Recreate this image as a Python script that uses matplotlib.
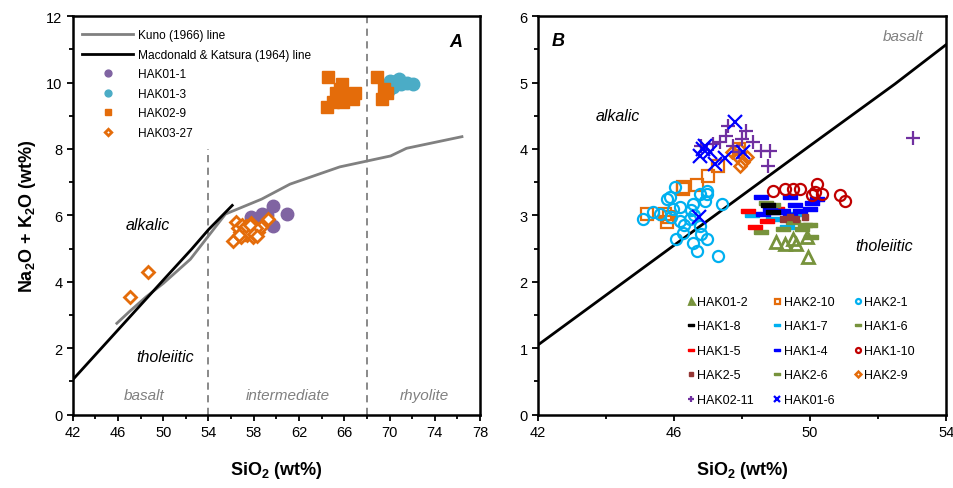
import numpy as np
import matplotlib
matplotlib.use("Agg")
import matplotlib.pyplot as plt

plt.rcParams["font.family"] = ["Liberation Sans", "DejaVu Sans"]
plt.rcParams["mathtext.fontset"] = "custom"
plt.rcParams["mathtext.rm"] = "Liberation Sans"
plt.rcParams["mathtext.bf"] = "Liberation Sans:bold"
plt.rcParams["mathtext.it"] = "Liberation Sans:italic"

# -------------------------
# data : panel A
# -------------------------
kuno_x = [45.9, 47.0, 48.5, 50.0, 52.4, 55.5, 58.7, 61.2, 65.6, 70.1, 71.5, 76.4]
kuno_y = [2.75, 3.10, 3.55, 3.95, 4.68, 6.04, 6.49, 6.94, 7.46, 7.79, 8.02, 8.37]
mk_x = [42.0, 44.4, 46.0, 48.0, 50.0, 52.5, 54.0, 56.1]
mk_y = [1.05, 1.95, 2.55, 3.30, 4.05, 4.98, 5.57, 6.30]

hak01_1_x = [59.7, 60.9, 58.7, 58.3, 59.7, 57.8, 59.2, 58.9]
hak01_1_y = [6.29, 6.04, 6.04, 5.89, 5.69, 5.94, 6.00, 5.80]
hak01_3_x = [70.05, 70.8, 70.3, 71.5, 72.1, 69.9, 71.0, 70.6]
hak01_3_y = [10.05, 10.10, 9.86, 10.00, 9.95, 9.75, 9.95, 10.05]
hak02_9_x = [64.6, 65.8, 65.3, 66.2, 66.8, 64.5, 65.0, 65.9, 66.96, 65.6,
             68.9, 69.3, 69.8, 69.5]
hak02_9_y = [10.16, 9.95, 9.70, 9.60, 9.50, 9.25, 9.40, 9.40, 9.70, 9.80,
             10.16, 9.50, 9.68, 9.80]
hak03_27_x = [47.07, 48.68, 56.2, 56.4, 57.8, 59.3, 56.8, 57.2, 57.6, 58.1,
              56.6, 57.0, 57.4, 58.4, 57.9, 56.9, 58.6, 57.1, 57.5, 58.2,
              56.7, 57.3, 58.0, 57.7, 58.3]
hak03_27_y = [3.53, 4.30, 5.24, 5.79, 5.77, 5.89, 5.50, 5.45, 5.60, 5.55,
              5.62, 5.70, 5.40, 5.50, 5.35, 5.35, 5.65, 5.55, 5.50, 5.62,
              5.42, 5.68, 5.45, 5.72, 5.38]

# -------------------------
# data : panel B
# -------------------------
b_hak01_2_x = [49.27, 49.5, 49.6, 49.9, 49.95, 49.0]
b_hak01_2_y = [2.57, 2.64, 2.57, 2.67, 2.37, 2.60]
b_hak2_10_x = [47.0, 46.66, 46.27, 47.3, 45.19, 45.78, 45.73, 46.27, 47.9, 45.85]
b_hak2_10_y = [3.60, 3.46, 3.42, 3.75, 3.02, 2.90, 3.02, 3.40, 4.00, 2.98]
b_hak2_1_x = [45.09, 45.38, 45.58, 45.97, 46.07, 46.27, 46.56, 46.66, 46.96, 47.3,
              45.78, 46.17, 46.56, 46.9, 46.96, 46.76, 46.46, 46.17, 46.02, 45.88,
              46.76, 46.96, 47.4, 46.6, 46.3, 45.9, 46.8, 46.5]
b_hak2_1_y = [2.95, 3.05, 3.02, 3.10, 2.64, 2.74, 2.59, 2.47, 2.64, 2.39,
              3.25, 3.12, 3.17, 3.22, 3.32, 2.84, 2.95, 2.92, 3.42, 3.27,
              3.32, 3.37, 3.17, 3.00, 2.85, 2.98, 2.72, 3.08]
b_hak1_8_x = [48.77, 48.9]
b_hak1_8_y = [3.15, 3.05]
b_hak1_7_x = [48.28, 49.31, 48.9, 49.6]
b_hak1_7_y = [3.00, 2.82, 2.95, 3.02]
b_hak1_6_x = [48.57, 49.2, 49.84, 50.04, 48.7]
b_hak1_6_y = [2.75, 2.80, 2.85, 2.67, 3.18]
b_hak1_5_x = [48.18, 48.38, 48.72, 49.02]
b_hak1_5_y = [3.07, 2.82, 2.92, 3.10]
b_hak1_4_x = [48.57, 49.4, 50.19, 48.82, 49.2, 49.7, 49.99, 48.63, 49.4, 49.0, 49.55, 50.05]
b_hak1_4_y = [3.27, 3.27, 3.25, 3.10, 3.07, 3.07, 3.10, 3.02, 3.00, 3.05, 3.15, 3.18]
b_hak1_10_x = [48.92, 49.27, 49.5, 49.7, 50.19, 50.14, 50.34, 50.05, 50.88, 51.03]
b_hak1_10_y = [3.37, 3.40, 3.40, 3.40, 3.47, 3.35, 3.32, 3.30, 3.30, 3.22]
b_hak2_5_x = [49.4, 49.6, 49.85, 49.2]
b_hak2_5_y = [2.97, 2.95, 2.97, 2.95]
b_hak2_6_x = [48.92, 49.75, 49.5, 50.0]
b_hak2_6_y = [3.15, 2.80, 2.90, 2.85]
b_hak2_9_x = [47.84, 48.03, 47.9, 47.7, 48.15, 47.95]
b_hak2_9_y = [3.90, 3.80, 4.00, 3.95, 3.88, 3.75]
b_hak02_11_x = [47.54, 48.12, 48.31, 48.57, 48.82, 48.77, 47.35, 47.74, 47.15, 46.8,
                47.6, 48.0, 47.9, 53.02]
b_hak02_11_y = [4.20, 4.27, 4.10, 3.97, 3.97, 3.75, 4.10, 4.05, 4.07, 4.05,
                4.35, 4.15, 3.95, 4.16]
b_hak01_6_x = [47.79, 46.86, 46.76, 47.05, 47.2, 47.5, 48.03, 46.9, 46.74]
b_hak01_6_y = [4.40, 4.00, 3.90, 3.95, 3.77, 3.87, 3.95, 4.05, 2.97]

# -------------------------
# styles
# -------------------------
c_purple = "#8064A2"
c_teal = "#4BACC6"
c_orange = "#E46C0A"
c_olive = "#77933C"
c_cyan = "#00B0F0"
c_red = "#FF0000"
c_blue = "#0000FF"
c_dred = "#C00000"
c_brown = "#953735"
c_violet = "#7030A0"

# Excel-like "dash" marker: a flat rectangle
dash = [(-1, -0.35), (1, -0.35), (1, 0.35), (-1, 0.35), (-1, -0.35)]

fig = plt.figure(figsize=(9.54, 4.89), dpi=100)
axA = fig.add_axes([0.0762, 0.150, 0.427, 0.815])
axB = fig.add_axes([0.564, 0.150, 0.4277, 0.815])

for ax in (axA, axB):
    for s in ax.spines.values():
        s.set_linewidth(1.8)
    ax.tick_params(which="both", direction="out", width=1.3, labelsize=10.5)
    ax.tick_params(which="major", length=4)
    ax.tick_params(which="minor", length=3)

# -------------------------
# panel A
# -------------------------
axA.plot(kuno_x, kuno_y, color="#808080", lw=2, label="Kuno (1966) line", zorder=2)
axA.plot(mk_x, mk_y, color="black", lw=2, label="Macdonald & Katsura (1964) line", zorder=2)
axA.plot([54, 54], [0, 8.0], ls=(0, (4, 3)), color="#808080", lw=1.3, zorder=1)
axA.plot([68, 68], [0, 12], ls=(0, (4, 3)), color="#808080", lw=1.3, zorder=1)

axA.plot(hak01_1_x, hak01_1_y, "o", ms=9, color=c_purple, mec=c_purple, label="HAK01-1", zorder=3)
axA.plot(hak01_3_x, hak01_3_y, "o", ms=9, color=c_teal, mec=c_teal, label="HAK01-3", zorder=3)
axA.plot(hak02_9_x, hak02_9_y, "s", ms=8, color=c_orange, mec=c_orange, label="HAK02-9", zorder=3)
axA.plot(hak03_27_x, hak03_27_y, "D", ms=6, mfc="white", mec=c_orange, mew=2,
         label="HAK03-27", zorder=4)

axA.set_xlim(42, 78)
axA.set_ylim(0, 12)
axA.set_xticks(np.arange(42, 79, 4))
axA.set_xticks(np.arange(44, 78, 4), minor=True)
axA.set_yticks(np.arange(0, 13, 2))
axA.set_yticks(np.arange(1, 12, 2), minor=True)
axA.set_xlabel(r"SiO$_\mathbf{2}$ (wt%)", fontsize=13, fontweight="bold", labelpad=14)
axA.set_ylabel(r"Na$_\mathbf{2}$O + K$_\mathbf{2}$O (wt%)", fontsize=13, fontweight="bold", labelpad=6)

axA.text(48.6, 5.74, "alkalic", fontsize=11.5, style="italic", ha="center", va="center")
axA.text(50.2, 1.76, "tholeiitic", fontsize=11.5, style="italic", ha="center", va="center")
axA.text(48.3, 0.6, "basalt", fontsize=11, style="italic", color="#808080", ha="center", va="center")
axA.text(61.0, 0.6, "intermediate", fontsize=11, style="italic", color="#808080", ha="center", va="center")
axA.text(73.1, 0.6, "rhyolite", fontsize=11, style="italic", color="#808080", ha="center", va="center")
axA.text(75.9, 11.25, "A", fontsize=13, style="italic", fontweight="bold", ha="center", va="center")

hA, lA = axA.get_legend_handles_labels()
axA.legend(hA, lA, loc="upper left", bbox_to_anchor=(0.005, 0.985), frameon=False,
           fontsize=8.6, handlelength=4.3, markerscale=0.55, labelspacing=0.63,
           handletextpad=0.4, borderaxespad=0.2)

# -------------------------
# panel B
# -------------------------
axB.plot(mk_x, mk_y, color="black", lw=2, zorder=2)

kw_open = dict(ls="none", mfc="none", zorder=3)
axB.plot(b_hak01_2_x, b_hak01_2_y, "^", ms=8, mec=c_olive, mew=2, label="HAK01-2", **kw_open)
axB.plot(b_hak2_10_x, b_hak2_10_y, "s", ms=8, mec=c_orange, mew=1.6, label="HAK2-10", **kw_open)
axB.plot(b_hak2_1_x, b_hak2_1_y, "o", ms=8, mec=c_cyan, mew=1.6, label="HAK2-1", **kw_open)
axB.plot(b_hak1_8_x, b_hak1_8_y, marker=dash, ls="none", ms=10, color="black", label="HAK1-8", zorder=4)
axB.plot(b_hak1_7_x, b_hak1_7_y, marker=dash, ls="none", ms=10, color=c_cyan, label="HAK1-7", zorder=3)
axB.plot(b_hak1_6_x, b_hak1_6_y, marker=dash, ls="none", ms=10, color=c_olive, label="HAK1-6", zorder=3)
axB.plot(b_hak1_5_x, b_hak1_5_y, marker=dash, ls="none", ms=10, color=c_red, label="HAK1-5", zorder=3)
axB.plot(b_hak1_4_x, b_hak1_4_y, marker=dash, ls="none", ms=10, color=c_blue, label="HAK1-4", zorder=3)
axB.plot(b_hak1_10_x, b_hak1_10_y, "o", ms=8, mec=c_dred, mew=1.6, label="HAK1-10", **kw_open)
axB.plot(b_hak2_5_x, b_hak2_5_y, "s", ls="none", ms=5, color=c_brown, label="HAK2-5", zorder=4)
axB.plot(b_hak2_6_x, b_hak2_6_y, marker=dash, ls="none", ms=10, color=c_olive, label="HAK2-6", zorder=3)
axB.plot(b_hak2_9_x, b_hak2_9_y, "D", ms=6.5, mec=c_orange, mew=1.8, label="HAK2-9", **kw_open)
axB.plot(b_hak02_11_x, b_hak02_11_y, "+", ls="none", ms=10, mew=1.6, color=c_violet, label="HAK02-11", zorder=3)
axB.plot(b_hak01_6_x, b_hak01_6_y, "x", ls="none", ms=10, mew=1.6, color=c_blue, label="HAK01-6", zorder=4)

axB.set_xlim(42, 54)
axB.set_ylim(0, 6)
axB.set_xticks([42, 46, 50, 54])
axB.set_xticks([44, 48, 52], minor=True)
axB.set_yticks(np.arange(0, 7, 1))
axB.set_yticks(np.arange(0.5, 6, 1), minor=True)
axB.set_xlabel(r"SiO$_\mathbf{2}$ (wt%)", fontsize=13, fontweight="bold", labelpad=14)

axB.text(44.35, 4.51, "alkalic", fontsize=11.5, style="italic", ha="center", va="center")
axB.text(52.17, 2.55, "tholeiitic", fontsize=11.5, style="italic", ha="center", va="center")
axB.text(52.73, 5.7, "basalt", fontsize=11, style="italic", color="#808080", ha="center", va="center")
axB.text(42.6, 5.64, "B", fontsize=13, style="italic", fontweight="bold", ha="center", va="center")

hB, lB = axB.get_legend_handles_labels()
# 3 columns, filled row by row like the original
order = list(range(len(hB)))
cols = [order[0::3], order[1::3], order[2::3]]
hB2 = [hB[i] for c in cols for i in c]
lB2 = [lB[i] for c in cols for i in c]
axB.legend(hB2, lB2, ncol=3, loc="lower right", bbox_to_anchor=(0.945, 0.0), frameon=False,
           fontsize=9, markerscale=0.45, handlelength=0.6, handletextpad=0.2,
           columnspacing=1.6, labelspacing=1.0, borderaxespad=0.3)

fig.savefig("out.png", dpi=100)
